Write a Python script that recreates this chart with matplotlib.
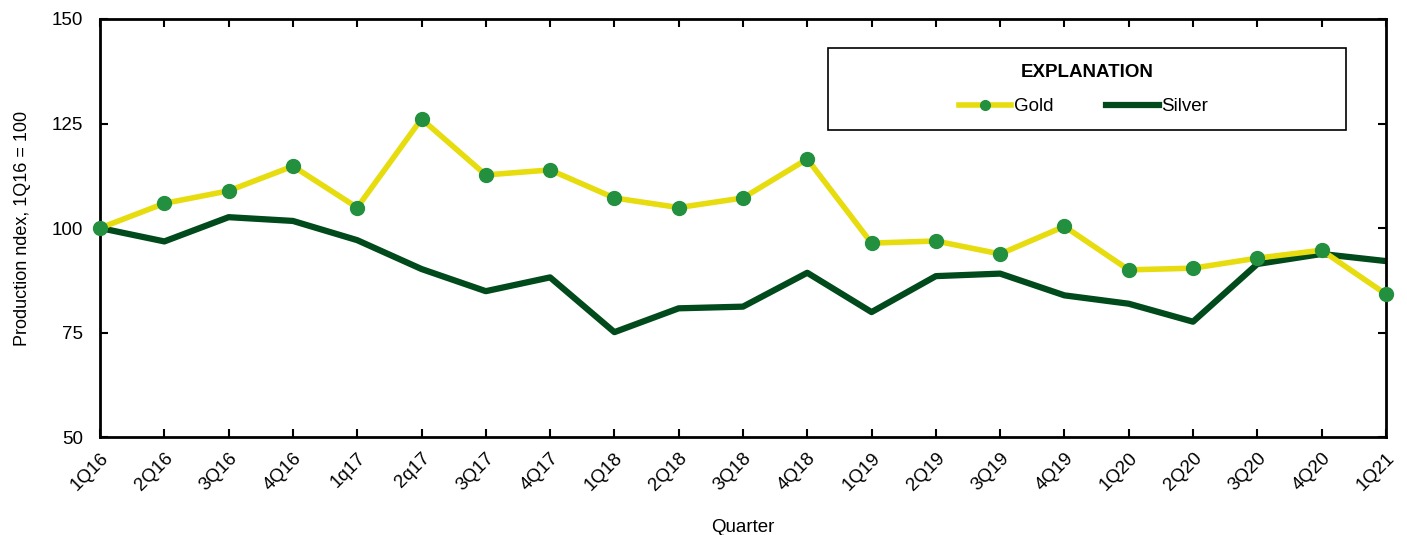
import matplotlib.pyplot as plt
from matplotlib.patches import Rectangle

quarters = ["1Q16", "2Q16", "3Q16", "4Q16", "1q17", "2q17", "3Q17", "4Q17",
            "1Q18", "2Q18", "3Q18", "4Q18", "1Q19", "2Q19", "3Q19", "4Q19",
            "1Q20", "2Q20", "3Q20", "4Q20", "1Q21"]
gold = [100, 105.9, 108.9, 114.8, 104.9, 126.1, 112.7, 113.9, 107.2, 104.9,
        107.2, 116.5, 96.4, 96.9, 93.8, 100.4, 90.0, 90.4, 92.8, 94.7, 84.2]
silver = [100, 96.8, 102.6, 101.7, 97.1, 90.2, 84.9, 88.2, 75.1, 80.8,
          81.2, 89.3, 79.9, 88.5, 89.1, 83.9, 81.9, 77.6, 91.4, 93.8, 92.1]

plt.rcParams["font.family"] = ["Liberation Sans", "DejaVu Sans"]
plt.rcParams["font.size"] = 13.5

fig = plt.figure(figsize=(14.07, 5.35), dpi=100)
ax = fig.add_axes([0.0711, 0.183, 0.9139, 0.7815])

x = range(len(quarters))
ax.plot(x, gold, color="#e6dc0e", lw=4, marker="o", ms=10,
        markerfacecolor="#23903f", markeredgecolor="#23903f", label="Gold",
        zorder=3, clip_on=False)
ax.plot(x, silver, color="#004a1c", lw=4.5, label="Silver", zorder=2)

ax.set_xlim(0, len(quarters) - 1)
ax.set_ylim(50, 150)
ax.set_yticks([50, 75, 100, 125, 150])
ax.set_xticks(list(x))
ax.set_xticklabels(quarters, rotation=45, ha="right", rotation_mode="anchor")
ax.tick_params(direction="in", length=6, width=1.5, top=True, right=True,
               labeltop=False, labelright=False)
ax.tick_params(axis="y", pad=12)
ax.tick_params(axis="x", pad=9)
for s in ax.spines.values():
    s.set_linewidth(2)

ax.set_ylabel("Production ndex, 1Q16 = 100", labelpad=15, fontsize=13)
ax.set_xlabel("Quarter", labelpad=18)

# legend box
ax.add_patch(Rectangle((0.566, 0.734), 0.403, 0.197, transform=ax.transAxes,
                       facecolor="white", edgecolor="black", lw=1.2, zorder=4))
ax.text(0.7675, 0.873, "EXPLANATION", transform=ax.transAxes, ha="center",
        va="center", fontweight="bold", zorder=5)
leg = ax.legend(ncol=2, loc="center", bbox_to_anchor=(0.765, 0.79),
                frameon=False, handlelength=2.8, handletextpad=0.15,
                columnspacing=2.8, markerscale=0.7)
leg.set_zorder(5)

fig.savefig("out.png", dpi=100)
